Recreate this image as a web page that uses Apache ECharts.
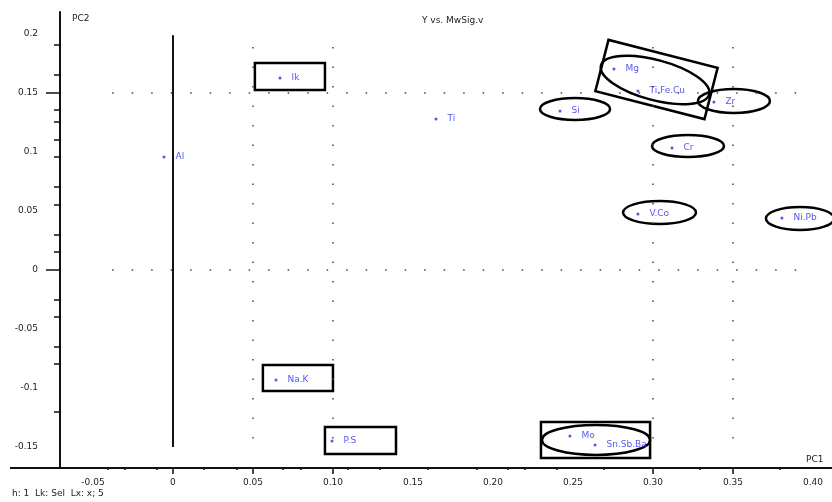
<!DOCTYPE html>
<html>
<head>
  <meta charset="UTF-8"/>
  <title></title>
  <script src="https://cdn.jsdelivr.net/npm/echarts@6/dist/echarts.min.js"></script>
  <style>html, body {margin: 0; padding: 0; background: #fff;}</style>
</head>
<body>
<div id="main" style="width: 832px;height: 502px;"></div>
<script type="text/javascript">
    // point labels and coordinates
    const names = ['Al', 'Ik', 'Ti', 'Si', 'Mg', 'Ti.Fe.Cu', 'Zr', 'Cr', 'V.Co', 'Ni.Pb', 'Na.K', 'P.S', 'Mo', 'Sn.Sb.Ba']
    const xs = [-0.0056, 0.0669, 0.1644, 0.2419, 0.2756, 0.2906, 0.3381, 0.3119, 0.2906, 0.3806, 0.0644, 0.0994, 0.2481, 0.2638]
    const ys = [0.0958, 0.1627, 0.1280, 0.1347, 0.1703, 0.1517, 0.1424, 0.1034, 0.0475, 0.0441, -0.0932, -0.1449, -0.1407, -0.1483]

    // axis ticks and labels
    const xLabelValues = [-0.05, 0, 0.05, 0.1, 0.15, 0.2, 0.25, 0.3, 0.35, 0.4]
    const xTickValues = [-0.0406, -0.03, -0.01, 0.0194, 0.04, 0.0688, 0.08, 0.1094, 0.1294, 0.159, 0.19, 0.209, 0.22, 0.24, 0.269, 0.329, 0.379]
    const xLongTicks = [0, 0.05, 0.1, 0.3, 0.35]
    const yLabelValues = [0.2, 0.15, 0.1, 0.05, 0, -0.05, -0.1, -0.15]
    const yTickValues = [0.1907, 0.1653, 0.1356, 0.1254, 0.1102, 0.0958, 0.0703, 0.0551, 0.0297, 0.0153, -0.0254, -0.0398, -0.0653, -0.0797, -0.1203]
    const yLongTicks = [0.15, 0]

    // reference lines
    const refX = [0.05, 0.1, 0.3, 0.35]
    const refY = [0.15, 0]

    // marked groups: [cx, cy, halfW, halfH, angle, kind(0 box, 1 ring)]
    const groups = [
        [0.0731, 0.1639, 0.0219, 0.0114, 0, 0],
        [0.0781, -0.0915, 0.0219, 0.0110, 0, 0],
        [0.1172, -0.1445, 0.0222, 0.0114, 0, 0],
        [0.2641, -0.1441, 0.0341, 0.0153, 0, 0],
        [0.3022, 0.1614, 0.0352, 0.0224, 14.4, 0],
        [0.3013, 0.1610, 0.0350, 0.0170, 15, 1],
        [0.2644, -0.1440, 0.0338, 0.0127, 0, 1],
        [0.2513, 0.1364, 0.0219, 0.0093, 0, 1],
        [0.3506, 0.1432, 0.0225, 0.0102, 0, 1],
        [0.3219, 0.1051, 0.0225, 0.0093, 0, 1],
        [0.3041, 0.0487, 0.0228, 0.0097, 0, 1],
        [0.3919, 0.0436, 0.0213, 0.0097, 0, 1]
    ]

    const xMin = -0.0706, xMax = 0.4119
    const yMin = -0.1678, yMax = 0.2186

    let myChart = echarts.init(document.getElementById('main'))

    const dotted = {color: '#444', width: 1.5, type: [1.5, 18]}
    let refLines = []
    refX.forEach(v => refLines.push([{coord: [v, 0.189], lineStyle: dotted}, {coord: [v, -0.146]}]))
    refY.forEach(v => refLines.push([{coord: [-0.038, v], lineStyle: dotted}, {coord: [0.392, v]}]))
    refLines.push([{coord: [0, 0.199], lineStyle: {color: '#111', width: 2, type: 'solid'}}, {coord: [0, -0.150]}])

    const txt = {fill: '#222', fontSize: 9, fontFamily: 'DejaVu Sans'}

    let option = {
        backgroundColor: '#fff',
        animation: false,
        grid: {left: 60, right: 0, top: 12, bottom: 34},
        graphic: [
            {type: 'line', shape: {x1: 10, y1: 468, x2: 60, y2: 468}, style: {stroke: '#111', lineWidth: 2}},
            {type: 'text', left: 72, top: 14, style: Object.assign({text: 'PC2'}, txt)},
            {type: 'text', left: 422, top: 16, style: Object.assign({text: 'Y vs. MwSig.v'}, txt)},
            {type: 'text', left: 806, top: 455, style: Object.assign({text: 'PC1'}, txt)},
            {type: 'text', left: 12, top: 489, style: Object.assign({text: 'h: 1  Lk: Sel  Lx: x; 5'}, txt)}
        ],
        xAxis: [{
            type: 'value', min: xMin, max: xMax,
            axisLine: {onZero: false, lineStyle: {color: '#111', width: 2}},
            axisTick: {customValues: xTickValues, length: 2, lineStyle: {color: '#111', width: 1.5}},
            axisLabel: {
                customValues: xLabelValues, color: '#222', fontSize: 9, margin: 10,
                fontFamily: 'DejaVu Sans',
                formatter: v => v === 0 ? '0' : v.toFixed(2)
            },
            splitLine: {show: false}
        }, {
            type: 'value', min: xMin, max: xMax, position: 'bottom',
            axisLine: {show: false, onZero: false},
            axisTick: {customValues: xLongTicks, length: 6, lineStyle: {color: '#111', width: 1.5}},
            axisLabel: {show: false},
            splitLine: {show: false}
        }],
        yAxis: [{
            type: 'value', min: yMin, max: yMax,
            axisLine: {show: true, onZero: false, lineStyle: {color: '#111', width: 2}},
            axisTick: {show: true, customValues: yTickValues, length: 6, lineStyle: {color: '#111', width: 1.5}},
            axisLabel: {
                customValues: yLabelValues, color: '#222', fontSize: 9, margin: 22,
                fontFamily: 'DejaVu Sans',
                formatter: v => v === 0 ? '0' : String(v)
            },
            splitLine: {show: false}
        }, {
            type: 'value', min: yMin, max: yMax, position: 'left',
            axisLine: {show: false, onZero: false},
            axisTick: {show: true, customValues: yLongTicks, length: 14, lineStyle: {color: '#111', width: 1.5}},
            axisLabel: {show: false},
            splitLine: {show: false}
        }],
        series: [
            {
                type: 'scatter',
                symbolSize: 3,
                itemStyle: {color: '#2a2af0'},
                data: xs.map((x, i) => ({value: [x, ys[i]], name: names[i]})),
                label: {
                    show: true, position: 'right', distance: 10,
                    formatter: '{b}', color: '#2a2af0', fontSize: 9, fontFamily: 'DejaVu Sans'
                },
                markLine: {silent: true, symbol: 'none', label: {show: false}, data: refLines}
            },
            {
                type: 'custom',
                clip: false,
                encode: {x: 0, y: 1},
                data: groups,
                renderItem: function (params, api) {
                    const c = api.coord([api.value(0), api.value(1)])
                    const s = api.size([api.value(2), api.value(3)])
                    const rot = -api.value(4) * Math.PI / 180
                    const style = {fill: 'none', stroke: '#000', lineWidth: 2.5}
                    if (api.value(5) === 0) {
                        return {
                            type: 'rect', rotation: rot, originX: c[0], originY: c[1],
                            shape: {x: c[0] - s[0], y: c[1] - s[1], width: 2 * s[0], height: 2 * s[1]},
                            style: style
                        }
                    }
                    return {
                        type: 'ellipse', rotation: rot, originX: c[0], originY: c[1],
                        shape: {cx: c[0], cy: c[1], rx: s[0], ry: s[1]},
                        style: style
                    }
                }
            }
        ]
    };
    myChart.setOption(option);
</script>
</body>
</html>
